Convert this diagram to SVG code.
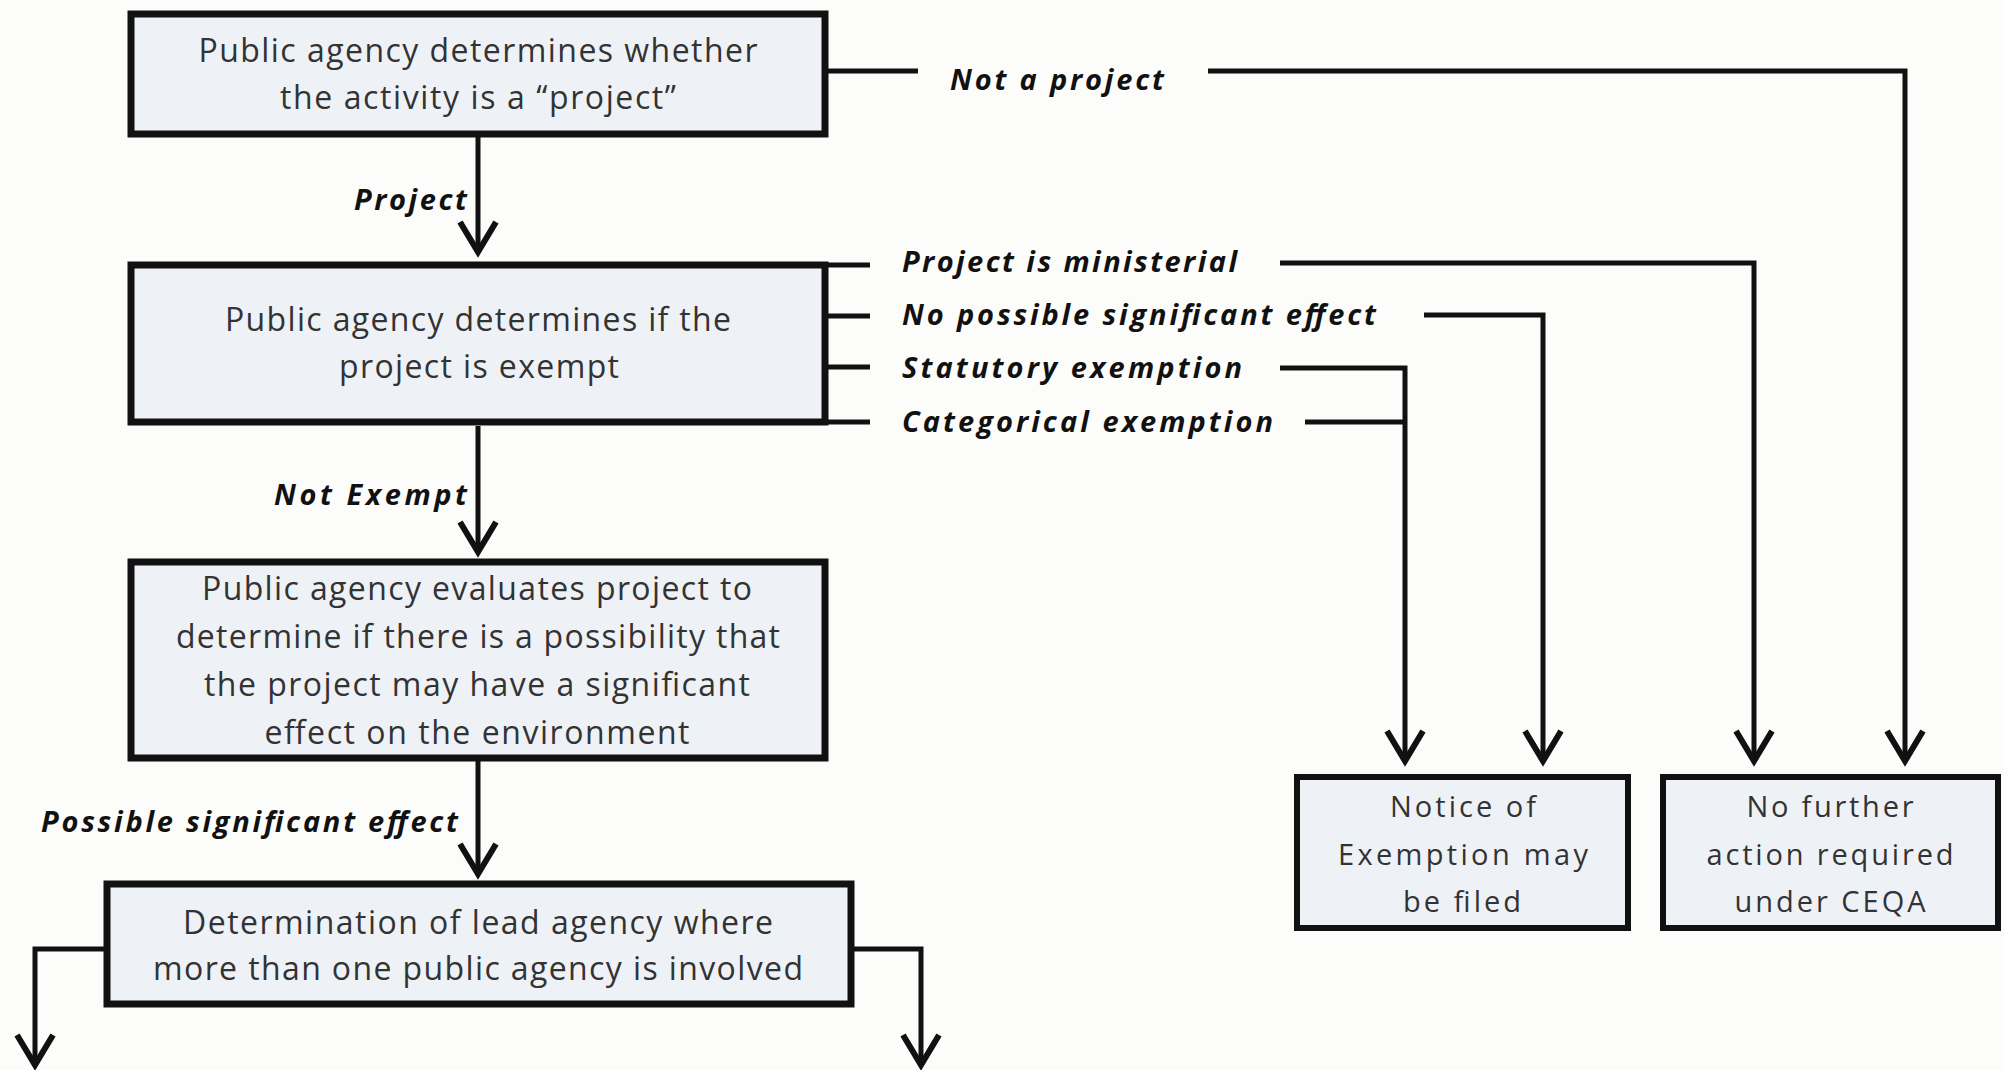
<svg xmlns="http://www.w3.org/2000/svg" width="2004" height="1070" viewBox="0 0 2004 1070">
<style>
.box{fill:#eef2f7;stroke:#111;stroke-width:7}
.sbox{fill:#eef2f7;stroke:#111;stroke-width:6}
.body{font-family:"Open Sans","Liberation Sans",sans-serif;font-size:32px;fill:#333;text-anchor:middle}
.small{font-family:"Open Sans","Liberation Sans",sans-serif;font-size:29px;fill:#333;text-anchor:middle}
.lbl{font-family:"Open Sans","Liberation Sans",sans-serif;font-size:29px;font-weight:bold;font-style:italic;fill:#111}
.ln{fill:none;stroke:#111;stroke-width:5}
.arr{fill:none;stroke:#111;stroke-width:5;marker-end:url(#ah)}
</style>
<defs>
<marker id="ah" markerUnits="userSpaceOnUse" markerWidth="60" markerHeight="60" refX="0" refY="0" orient="auto" viewBox="-40 -30 50 60" overflow="visible">
<path d="M-30,-18 L0,0 L-30,18" fill="none" stroke="#111" stroke-width="6" stroke-linejoin="miter"/>
</marker>
</defs>
<rect width="2004" height="1070" fill="#fcfcfa"/>

<g id="connectors">
<path class="arr" d="M478 137 V252"/>
<path class="ln" d="M825 71 H918"/>
<path class="arr" d="M1208 71 H1905 V761"/>
<path class="ln" d="M825 265 H870 M825 316 H870 M825 367 H870 M825 422 H870"/>
<path class="arr" d="M1280 263 H1754 V761"/>
<path class="arr" d="M1424 315 H1543 V761"/>
<path class="arr" d="M1280 368 H1405 V761"/>
<path class="ln" d="M1305 422 H1405"/>
<path class="arr" d="M478 426 V552"/>
<path class="arr" d="M478 761 V874"/>
<path class="arr" d="M107 949 H35 V1065"/>
<path class="arr" d="M851 949 H921 V1065"/>
</g>

<g id="labels">
<text class="lbl" x="950" y="90" textLength="214">Not a project</text>
<text class="lbl" x="467" y="210" text-anchor="end" textLength="113">Project</text>
<text class="lbl" x="902" y="272" textLength="335">Project is ministerial</text>
<text class="lbl" x="902" y="325" textLength="474">No possible significant effect</text>
<text class="lbl" x="902" y="378" textLength="340">Statutory exemption</text>
<text class="lbl" x="902" y="432" textLength="371">Categorical exemption</text>
<text class="lbl" x="467" y="505" text-anchor="end" textLength="193">Not Exempt</text>
<text class="lbl" x="41" y="832" textLength="417">Possible significant effect</text>
</g>

<g id="node-project">
<rect class="box" x="131" y="14" width="694" height="120"/>
<text class="body" x="478" y="62" textLength="559">Public agency determines whether</text>
<text class="body" x="478" y="109" textLength="396">the activity is a “project”</text>
</g>

<g id="node-exempt">
<rect class="box" x="131" y="265" width="694" height="157"/>
<text class="body" x="478" y="331" textLength="506">Public agency determines if the</text>
<text class="body" x="479" y="378" textLength="280">project is exempt</text>
</g>

<g id="node-evaluate">
<rect class="box" x="131" y="562" width="694" height="196"/>
<text class="body" x="477" y="600" textLength="550">Public agency evaluates project to</text>
<text class="body" x="478" y="648" textLength="604">determine if there is a possibility that</text>
<text class="body" x="477" y="696" textLength="546">the project may have a significant</text>
<text class="body" x="477" y="744" textLength="425">effect on the environment</text>
</g>

<g id="node-lead">
<rect class="box" x="107" y="884" width="744" height="120"/>
<text class="body" x="478" y="934" textLength="590">Determination of lead agency where</text>
<text class="body" x="478" y="980" textLength="650">more than one public agency is involved</text>
</g>

<g id="node-notice">
<rect class="sbox" x="1297" y="777" width="331" height="151"/>
<text class="small" x="1463" y="817" textLength="146">Notice of</text>
<text class="small" x="1463" y="865" textLength="250">Exemption may</text>
<text class="small" x="1462" y="912" textLength="118">be filed</text>
</g>

<g id="node-nofurther">
<rect class="sbox" x="1663" y="777" width="335" height="151"/>
<text class="small" x="1830" y="817" textLength="167">No further</text>
<text class="small" x="1830" y="865" textLength="247">action required</text>
<text class="small" x="1830" y="912" textLength="191">under CEQA</text>
</g>
</svg>
